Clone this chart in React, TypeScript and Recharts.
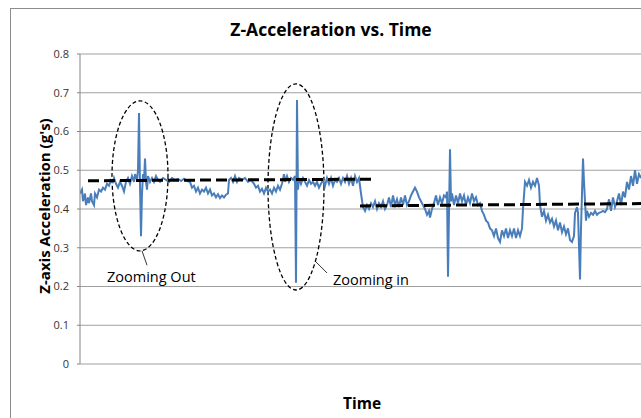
import React from "react";
import {
  LineChart,
  Line,
  XAxis,
  YAxis,
  CartesianGrid,
  ReferenceArea,
  ReferenceLine,
} from "recharts";

// sample index (time) and measured z-acceleration (g's)
const time = [
  0, 2, 3, 5, 6, 8, 9, 11, 12, 14, 15, 17, 19, 21, 23, 25, 27, 29, 31, 33, 34, 36, 38, 40, 42, 44, 46, 48, 50, 52, 54, 55, 57, 58,
  59, 60, 61, 62, 63, 64, 65, 66, 67, 68, 70, 72, 74, 76, 78, 80, 83, 86, 89, 92, 95, 98, 101, 104, 107, 110, 112, 114, 116, 118,
  120, 122, 124, 126, 128, 130, 132, 134, 136, 138, 140, 142, 144, 146, 148, 149, 151, 153, 155, 157, 159, 162, 165, 168, 171, 174,
  176, 178, 180, 182, 184, 186, 188, 190, 192, 194, 196, 198, 200, 202, 204, 205, 207, 209, 211, 213, 215, 216, 217, 218, 219, 221,
  223, 225, 227, 229, 231, 233, 235, 237, 239, 241, 243, 245, 247, 249, 251, 253, 255, 257, 259, 261, 263, 265, 267, 269, 271, 273,
  275, 277, 279, 281, 283, 285, 287, 289, 291, 293, 295, 297, 299, 301, 303, 305, 307, 309, 311, 313, 315, 317, 319, 321, 323, 325,
  327, 329, 331, 333, 335, 337, 339, 341, 343, 345, 347, 349, 350, 352, 354, 356, 358, 360, 362, 364, 366, 367, 368, 370, 371, 372,
  374, 376, 378, 380, 382, 384, 386, 388, 390, 392, 394, 396, 398, 400, 402, 404, 406, 408, 410, 412, 414, 416, 418, 420, 422, 424,
  426, 428, 430, 432, 434, 436, 438, 440, 442, 443, 445, 447, 449, 451, 453, 455, 457, 459, 460, 462, 464, 466, 468, 470, 472, 474,
  476, 478, 480, 482, 484, 486, 488, 490, 492, 494, 495, 497, 498, 500, 501, 503, 504, 505, 506, 507, 509, 511, 513, 515, 517, 519,
  521, 523, 525, 527, 529, 531, 533, 535, 537, 539, 541, 543, 545, 547, 549, 551, 553, 555, 557, 559, 561,
];

const accel = [
  0.44, 0.45, 0.42, 0.44, 0.41, 0.43, 0.415, 0.44, 0.42, 0.41, 0.44, 0.43, 0.45, 0.445, 0.455, 0.45, 0.465, 0.46, 0.475, 0.47, 0.48,
  0.465, 0.455, 0.47, 0.46, 0.445, 0.47, 0.48, 0.465, 0.485, 0.47, 0.49, 0.475, 0.5,
  0.648, 0.46, 0.33, 0.44, 0.49, 0.47, 0.53, 0.47, 0.45, 0.485, 0.47, 0.48, 0.47, 0.485, 0.475, 0.47, 0.48, 0.475, 0.47, 0.48, 0.475,
  0.478, 0.472, 0.478, 0.472, 0.47, 0.455, 0.46, 0.445, 0.455,
  0.44, 0.45, 0.445, 0.455, 0.44, 0.45, 0.435, 0.44, 0.43, 0.438, 0.428, 0.435, 0.43, 0.437, 0.44, 0.475, 0.48, 0.47, 0.485, 0.47,
  0.48, 0.475, 0.48, 0.47, 0.475, 0.465,
  0.455, 0.46, 0.445, 0.452, 0.44, 0.455, 0.445, 0.45, 0.44, 0.455, 0.445, 0.46, 0.45, 0.465, 0.49, 0.47, 0.485, 0.47, 0.48, 0.475,
  0.485, 0.21, 0.681, 0.45, 0.48, 0.465,
  0.48, 0.47, 0.46, 0.475, 0.465, 0.47, 0.46, 0.47, 0.455, 0.465, 0.475, 0.46, 0.48, 0.465, 0.48, 0.46, 0.475, 0.47, 0.48, 0.465, 0.48,
  0.47, 0.485, 0.465, 0.48, 0.46,
  0.485, 0.47, 0.48, 0.44, 0.405, 0.395, 0.41, 0.4, 0.415, 0.405, 0.42, 0.4, 0.415, 0.405, 0.42, 0.4, 0.41, 0.43, 0.405, 0.435, 0.41,
  0.425, 0.405, 0.43, 0.41, 0.435,
  0.41, 0.42, 0.435, 0.445, 0.455, 0.445, 0.43, 0.42, 0.41, 0.4, 0.385, 0.395, 0.378, 0.4, 0.415, 0.435, 0.41, 0.43, 0.415, 0.435,
  0.43, 0.445, 0.225, 0.554, 0.42, 0.44,
  0.41, 0.435, 0.415, 0.44, 0.42, 0.435, 0.41, 0.43, 0.415, 0.44, 0.42, 0.43, 0.41, 0.415, 0.395, 0.385, 0.37, 0.365, 0.35, 0.345,
  0.33, 0.35, 0.325, 0.315, 0.345, 0.33,
  0.35, 0.325, 0.345, 0.33, 0.35, 0.325, 0.345, 0.33, 0.35, 0.4, 0.47, 0.46, 0.475, 0.455, 0.47, 0.46, 0.48, 0.46, 0.41, 0.38, 0.395,
  0.37, 0.385, 0.365, 0.375, 0.355,
  0.37, 0.345, 0.365, 0.34, 0.355, 0.335, 0.35, 0.32, 0.315, 0.33, 0.39, 0.405, 0.39, 0.218, 0.35, 0.53, 0.47, 0.42, 0.37, 0.395,
  0.38, 0.39, 0.385, 0.395, 0.385, 0.39,
  0.392, 0.395, 0.392, 0.4, 0.425, 0.395, 0.43, 0.405, 0.42, 0.44, 0.41, 0.445, 0.43, 0.47, 0.45, 0.485, 0.46, 0.5, 0.465, 0.49, 0.48,
];

// dashed mean levels before and after the zoom change
const trendTimeA = [8, 295];
const trendA = [0.473, 0.477];
const trendTimeB = [280, 565];
const trendB = [0.408, 0.414];

const yTicks = [0, 0.1, 0.2, 0.3, 0.4, 0.5, 0.6, 0.7, 0.8];

const data = time.map((t, i) => ({ t, v: accel[i] }));
const trendDataA = trendTimeA.map((t, i) => ({ t, v: trendA[i] }));
const trendDataB = trendTimeB.map((t, i) => ({ t, v: trendB[i] }));

const FONT = "'Open Sans', 'Noto Sans', 'Liberation Sans', sans-serif";

const EllipseShape = (props: any) => {
  const { x, y, width, height } = props;
  return (
    <ellipse
      cx={x + width / 2}
      cy={y + height / 2}
      rx={width / 2}
      ry={height / 2}
      fill="none"
      stroke="#000"
      strokeWidth={1.3}
      strokeDasharray="4 2.5"
    />
  );
};

export default function App() {
  return (
    <div
      style={{
        position: "fixed",
        left: 0,
        top: 0,
        width: 641,
        height: 418,
        overflow: "hidden",
        background: "#fff",
        fontFamily: FONT,
      }}
    >
      <div
        style={{
          position: "absolute",
          left: 10,
          top: 8,
          width: 660,
          height: 430,
          border: "1px solid #8c8c8c",
        }}
      >
        <LineChart
          width={640}
          height={400}
          margin={{ top: 45, right: 6, bottom: 45, left: 29 }}
        >
          <CartesianGrid horizontal vertical={false} stroke="#a0a0a0" strokeWidth={1} />
          <XAxis
            type="number"
            dataKey="t"
            domain={[0, 565]}
            allowDataOverflow
            hide
          />
          <YAxis
            type="number"
            domain={[0, 0.8]}
            ticks={yTicks}
            width={40}
            axisLine={{ stroke: "#868686" }}
            tickLine={{ stroke: "#868686" }}
            tickSize={3}
            tickMargin={8}
            tick={{ fontSize: 11, fill: "#333", fontFamily: FONT }}
            tickFormatter={(v: number) => String(Math.round(v * 10) / 10)}
          />
          <Line
            data={data}
            dataKey="v"
            type="linear"
            stroke="#4a7ebb"
            strokeWidth={2}
            dot={false}
            isAnimationActive={false}
          />
          <Line
            data={trendDataA}
            dataKey="v"
            type="linear"
            stroke="#000"
            strokeWidth={3}
            strokeDasharray="11 5"
            dot={false}
            isAnimationActive={false}
          />
          <Line
            data={trendDataB}
            dataKey="v"
            type="linear"
            stroke="#000"
            strokeWidth={3}
            strokeDasharray="11 5"
            dot={false}
            isAnimationActive={false}
          />
          <ReferenceArea x1={32} x2={88} y1={0.292} y2={0.679} shape={EllipseShape} ifOverflow="visible" />
          <ReferenceArea x1={188} x2={244} y1={0.191} y2={0.723} shape={EllipseShape} ifOverflow="visible" />
          <ReferenceLine
            segment={[
              { x: 62, y: 0.292 },
              { x: 67, y: 0.255 },
            ]}
            stroke="#000"
            strokeWidth={0.8}
            ifOverflow="visible"
          />
          <ReferenceLine
            segment={[
              { x: 235, y: 0.266 },
              { x: 247, y: 0.235 },
            ]}
            stroke="#000"
            strokeWidth={0.8}
            ifOverflow="visible"
          />
        </LineChart>
      </div>

      <div
        style={{
          position: "absolute",
          left: 331,
          top: 21,
          transform: "translateX(-50%)",
          fontSize: 17.5,
          fontWeight: 700,
          whiteSpace: "nowrap",
          lineHeight: "17.5px",
          color: "#000",
        }}
      >
        Z-Acceleration vs. Time
      </div>

      <div
        style={{
          position: "absolute",
          left: 44,
          top: 206,
          transform: "translate(-50%, -50%) rotate(-90deg)",
          fontSize: 15,
          fontWeight: 700,
          whiteSpace: "nowrap",
          lineHeight: "18px",
          color: "#000",
        }}
      >
        Z-axis Acceleration (g's)
      </div>

      <div
        style={{
          position: "absolute",
          left: 362,
          top: 403,
          transform: "translate(-50%, -50%)",
          fontSize: 15.5,
          fontWeight: 700,
          whiteSpace: "nowrap",
          lineHeight: "18px",
          color: "#000",
        }}
      >
        Time
      </div>

      <div
        style={{
          position: "absolute",
          left: 107,
          top: 277,
          transform: "translateY(-50%)",
          fontSize: 14.5,
          whiteSpace: "nowrap",
          lineHeight: "16px",
          color: "#000",
        }}
      >
        Zooming Out
      </div>

      <div
        style={{
          position: "absolute",
          left: 333,
          top: 280,
          transform: "translateY(-50%)",
          fontSize: 14.5,
          whiteSpace: "nowrap",
          lineHeight: "16px",
          color: "#000",
        }}
      >
        Zooming in
      </div>
    </div>
  );
}
